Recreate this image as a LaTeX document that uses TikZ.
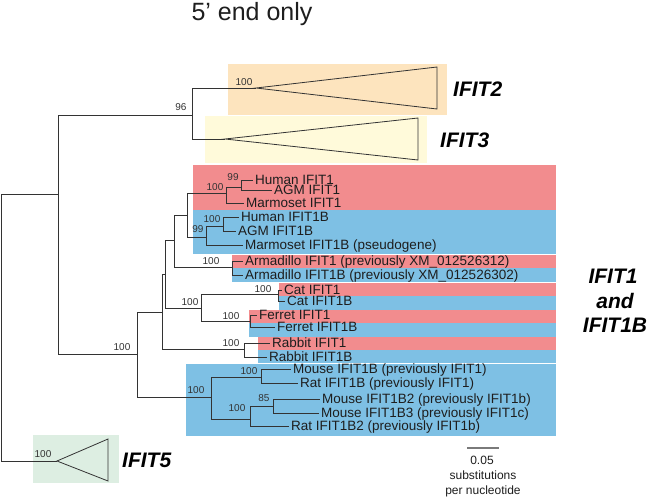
\documentclass[tikz,border=0pt]{standalone}
\usepackage{fontspec}
\setmainfont{Liberation Sans}
\definecolor{boxorange}{HTML}{FDE4BE}
\definecolor{boxyellow}{HTML}{FFFADA}
\definecolor{boxred}{HTML}{F28C8E}
\definecolor{boxblue}{HTML}{7EC0E4}
\definecolor{boxgreen}{HTML}{DDEEE2}
\definecolor{linegray}{HTML}{333333}
\definecolor{textdark}{HTML}{1E1E1E}
\definecolor{bsgray}{HTML}{333333}
\definecolor{bargray}{HTML}{7A7A7A}
\begin{document}
\begin{tikzpicture}[x=1pt,y=-1pt,
  br/.style={draw=linegray, line width=0.8pt},
  leaf/.style={anchor=west, inner xsep=2pt, inner ysep=0pt, text height=9pt, text depth=0pt,
    yshift=-0.3pt, font=\fontsize{13.5}{13.5}\selectfont, text=textdark},
  bs/.style={inner sep=0pt, text height=7.2pt, text depth=0pt,
    font=\fontsize{10}{10}\selectfont, text=bsgray},
  clade/.style={anchor=base west, inner sep=0pt, font=\fontsize{21}{24}\selectfont\bfseries\itshape},
  cladec/.style={anchor=base, inner sep=0pt, font=\fontsize{21}{24}\selectfont\bfseries\itshape},
  scaletxt/.style={anchor=base, inner sep=0pt, font=\fontsize{12}{12}\selectfont, text=textdark},
  titletxt/.style={anchor=base, inner sep=0pt, font=\fontsize{25}{25}\selectfont, text=textdark}
]
\useasboundingbox (0,0) rectangle (649,498);
\fill[white] (0,0) rectangle (649,498);

% ---------- coloured clade boxes ----------
\fill[boxorange] (228,64) rectangle (447,115);
\fill[boxyellow] (205,116) rectangle (427,163);
\fill[boxgreen]  (33,435) rectangle (119,483);
\fill[boxred]  (193,165) rectangle (556,210);
\fill[boxblue] (193,210) rectangle (556,254);
\fill[boxred]  (232,255) rectangle (556,268);
\fill[boxblue] (232,268) rectangle (556,282);
\fill[boxred]  (279,283) rectangle (556,296);
\fill[boxblue] (279,296) rectangle (556,310);
\fill[boxred]  (249,310) rectangle (556,323);
\fill[boxblue] (249,323) rectangle (556,337);
\fill[boxred]  (258,337) rectangle (556,350);
\fill[boxblue] (258,350) rectangle (556,363);
\fill[boxblue] (186,364) rectangle (556,436);

% ---------- title ----------
\node[titletxt] (title) at (252,20) {5’ end only};

% ---------- internal nodes ----------
\coordinate (R) at (1,194);
\coordinate (A) at (58,194);
\coordinate (B) at (192,115);
\coordinate (C) at (137,354);
\coordinate (D) at (162,312);
\coordinate (E) at (165,274);
\coordinate (F) at (174,240);
\coordinate (G) at (187,215);
\coordinate (H) at (226,193);
\coordinate (I) at (241,187);
\coordinate (J) at (206,237);
\coordinate (K) at (223,226);
\coordinate (Arm) at (232,267);
\coordinate (CF) at (201,308);
\coordinate (Cat) at (278,294);
\coordinate (Fer) at (250,321);
\coordinate (Rab) at (244,349);
\coordinate (L) at (211,397);
\coordinate (M) at (261,377);
\coordinate (N) at (250,419);
\coordinate (O) at (273,406);

% ---------- collapsed clades (triangles) ----------
\coordinate (t2a) at (256,88);  \coordinate (t2t) at (437,67);  \coordinate (t2b) at (437,109);
\coordinate (t3a) at (225,139); \coordinate (t3t) at (418,118); \coordinate (t3b) at (418,160);
\coordinate (t5a) at (57,461);  \coordinate (t5t) at (108,439); \coordinate (t5b) at (108,481);
\draw[br] (t2a) -- (t2t) -- (t2b) -- cycle;
\draw[br] (t3a) -- (t3t) -- (t3b) -- cycle;
\draw[br] (t5a) -- (t5t) -- (t5b) -- cycle;

% ---------- leaf tips ----------
\coordinate (hum1) at (253,180);
\coordinate (agm1) at (272,190);
\coordinate (mar1) at (244,203);
\coordinate (hum1b) at (239,217);
\coordinate (agm1b) at (236,231);
\coordinate (mar1b) at (243,245);
\coordinate (arm1) at (243,261);
\coordinate (arm1b) at (243,275);
\coordinate (cat1) at (282,290);
\coordinate (cat1b) at (285,301);
\coordinate (fer1) at (257,315);
\coordinate (fer1b) at (275,327);
\coordinate (rab1) at (270,343);
\coordinate (rab1b) at (267,357);
\coordinate (mou1b) at (291,369);
\coordinate (rat1b) at (298,383);
\coordinate (mou1b2) at (320,399);
\coordinate (mou1b3) at (319,413);
\coordinate (rat1b2) at (289,426);

% ---------- branches ----------
\draw[br] (R) |- (A);
\draw[br] (R) |- (t5a);
\draw[br] (A) |- (B);
\draw[br] (A) |- (C);
\draw[br] (B) |- (t2a);
\draw[br] (B) |- (t3a);
\draw[br] (C) |- (D);
\draw[br] (C) |- (L);
\draw[br] (D) |- (E);
\draw[br] (D) |- (Rab);
\draw[br] (E) |- (F);
\draw[br] (E) |- (CF);
\draw[br] (F) |- (G);
\draw[br] (F) |- (Arm);
\draw[br] (G) |- (H);
\draw[br] (G) |- (J);
\draw[br] (H) |- (I);
\draw[br] (H) |- (mar1);
\draw[br] (I) |- (hum1);
\draw[br] (I) |- (agm1);
\draw[br] (J) |- (K);
\draw[br] (J) |- (mar1b);
\draw[br] (K) |- (hum1b);
\draw[br] (K) |- (agm1b);
\draw[br] (Arm) |- (arm1);
\draw[br] (Arm) |- (arm1b);
\draw[br] (CF) |- (Cat);
\draw[br] (CF) |- (Fer);
\draw[br] (Cat) |- (cat1);
\draw[br] (Cat) |- (cat1b);
\draw[br] (Fer) |- (fer1);
\draw[br] (Fer) |- (fer1b);
\draw[br] (Rab) |- (rab1);
\draw[br] (Rab) |- (rab1b);
\draw[br] (L) |- (M);
\draw[br] (L) |- (N);
\draw[br] (M) |- (mou1b);
\draw[br] (M) |- (rat1b);
\draw[br] (N) |- (O);
\draw[br] (N) |- (rat1b2);
\draw[br] (O) |- (mou1b2);
\draw[br] (O) |- (mou1b3);

% ---------- leaf labels ----------
\node[leaf] (hum1t) at (hum1) {Human IFIT1};
\node[leaf] (agm1t) at (agm1) {AGM IFIT1};
\node[leaf] (mar1t) at (mar1) {Marmoset IFIT1};
\node[leaf] (hum1bt) at (hum1b) {Human IFIT1B};
\node[leaf] (agm1bt) at (agm1b) {AGM IFIT1B};
\node[leaf] (mar1bt) at (mar1b) {Marmoset IFIT1B (pseudogene)};
\node[leaf] (arm1t) at (arm1) {Armadillo IFIT1 (previously XM\_012526312)};
\node[leaf] (arm1bt) at (arm1b) {Armadillo IFIT1B (previously XM\_012526302)};
\node[leaf] (cat1t) at (cat1) {Cat IFIT1};
\node[leaf] (cat1bt) at (cat1b) {Cat IFIT1B};
\node[leaf] (fer1t) at (fer1) {Ferret IFIT1};
\node[leaf] (fer1bt) at (fer1b) {Ferret IFIT1B};
\node[leaf] (rab1t) at (rab1) {Rabbit IFIT1};
\node[leaf] (rab1bt) at (rab1b) {Rabbit IFIT1B};
\node[leaf] (mou1bt) at (mou1b) {Mouse IFIT1B (previously IFIT1)};
\node[leaf] (rat1bt) at (rat1b) {Rat IFIT1B (previously IFIT1)};
\node[leaf] (mou1b2t) at (mou1b2) {Mouse IFIT1B2 (previously IFIT1b)};
\node[leaf] (mou1b3t) at (mou1b3) {Mouse IFIT1B3 (previously IFIT1c)};
\node[leaf] (rat1b2t) at (rat1b2) {Rat IFIT1B2 (previously IFIT1b)};

% ---------- bootstrap values ----------
\node[bs] (bsB) at (181,107) {96};
\node[bs] (bs2) at (244,82) {100};
\node[bs] (bs5) at (43,454) {100};
\node[bs] (bsC) at (122,347) {100};
\node[bs] (bsH) at (215,187) {100};
\node[bs] (bsI) at (233,177) {99};
\node[bs] (bsJ) at (198,229) {99};
\node[bs] (bsK) at (212,219) {100};
\node[bs] (bsArm) at (211,261) {100};
\node[bs] (bsCat) at (263,289) {100};
\node[bs] (bsCF) at (190,302) {100};
\node[bs] (bsFer) at (231,316) {100};
\node[bs] (bsRab) at (231,343) {100};
\node[bs] (bsL) at (196,390) {100};
\node[bs] (bsM) at (249,371) {100};
\node[bs] (bsN) at (237,408) {100};
\node[bs] (bsO) at (264,398) {85};

% ---------- clade names ----------
\node[clade] (lab2) at (453,96) {IFIT2};
\node[clade] (lab3) at (440,147) {IFIT3};
\node[clade] (lab5) at (122,467) {IFIT5};
\node[cladec] (lab1a) at (613,283) {IFIT1};
\node[cladec] (lab1b) at (615,308) {and};
\node[cladec] (lab1c) at (615,332) {IFIT1B};

% ---------- scale bar ----------
\coordinate (sbl) at (467,448);
\coordinate (sbr) at (499,448);
\draw[draw=bargray, line width=1.2pt] (sbl) -- (sbr);
\node[scaletxt] (sb1) at (482,464) {0.05};
\node[scaletxt] (sb2) at (483,479) {substitutions};
\node[scaletxt] (sb3) at (483,494) {per nucleotide};
\end{tikzpicture}
\end{document}
